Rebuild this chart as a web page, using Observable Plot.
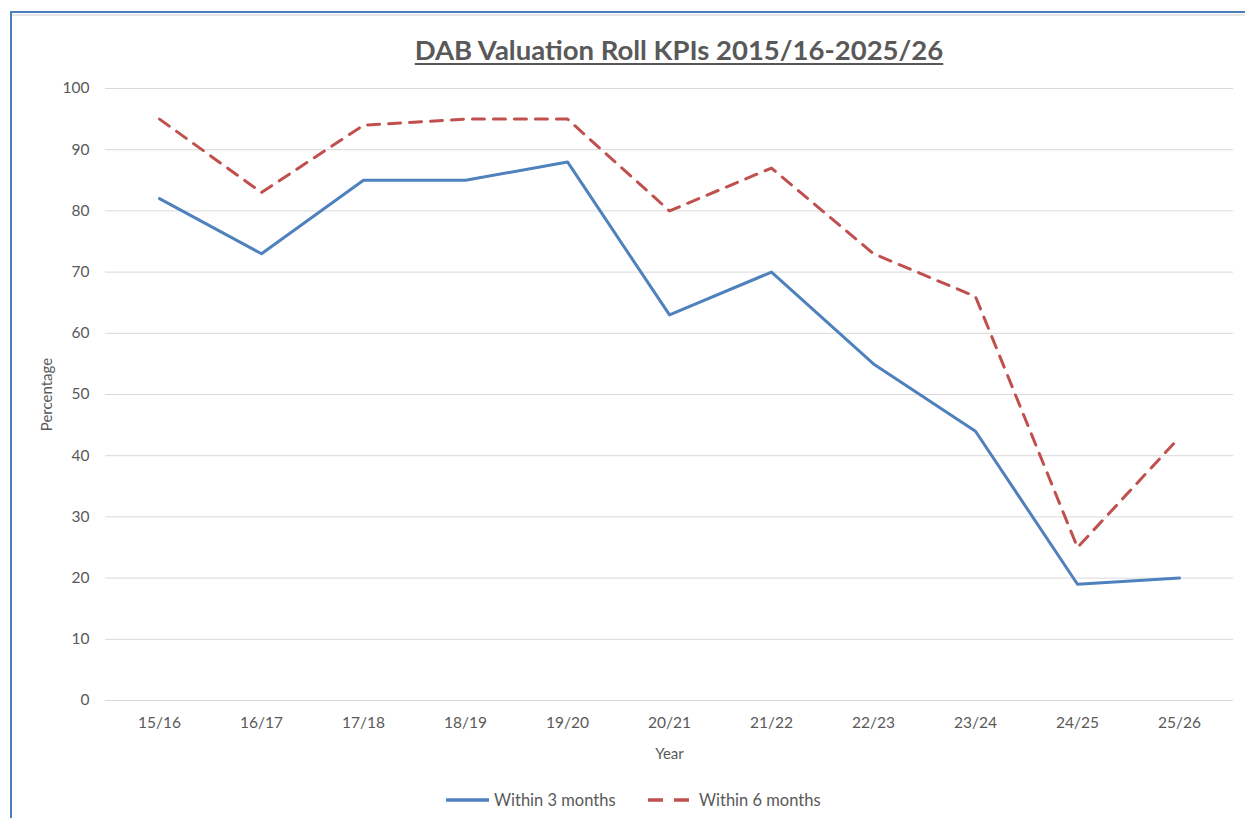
<!DOCTYPE html>
<html>
<head>
<meta charset="utf-8">
<script src="https://cdn.jsdelivr.net/npm/d3@7"></script>
<script src="https://cdn.jsdelivr.net/npm/@observablehq/plot@0.6"></script>
<style>
  html, body { margin: 0; padding: 0; background: #fff; }
  #wrap { position: relative; width: 1245px; height: 818px; overflow: hidden; font-family: Lato, "Open Sans", sans-serif; }
  #topline { position: absolute; left: 10px; top: 11px; width: 1235px; height: 2px; background: #4a7ebb; }
  #topgrey { position: absolute; left: 12px; top: 14px; width: 1233px; height: 2px; background: #e6e6e6; }
  #leftline { position: absolute; left: 10px; top: 11px; width: 2px; height: 807px; background: #4a7ebb; }
  #title { position: absolute; left: 0; width: 1358px; top: 33px; text-align: center; font-size: 27.5px; font-weight: bold; color: #595959; text-decoration: underline; text-underline-offset: 3px; }
  #chart { position: absolute; left: 0; top: 0; }
  #legend { position: absolute; top: 790px; left: 0; width: 1245px; font-size: 16.5px; color: #595959; }
  .item { position: absolute; display: flex; align-items: center; height: 20px; }
</style>
</head>
<body>
<div id="wrap">
  <div id="chart"></div>
  <div id="topline"></div>
  <div id="topgrey"></div>
  <div id="leftline"></div>
  <div id="title">DAB Valuation Roll KPIs 2015/16-2025/26</div>
  <div id="legend"></div>
</div>
<script>
const years = ["15/16","16/17","17/18","18/19","19/20","20/21","21/22","22/23","23/24","24/25","25/26"];
const within3 = [82, 73, 85, 85, 88, 63, 70, 55, 44, 19, 20];
const within6 = [95, 83, 94, 95, 95, 80, 87, 73, 66, 25, 43];
const yTicks = [0,10,20,30,40,50,60,70,80,90,100];
const seriesNames = ["Within 3 months", "Within 6 months"];
const seriesColors = ["#4f81bd", "#c0504d"];

const d3m = years.map((y, i) => ({year: y, value: within3[i]}));
const d6m = years.map((y, i) => ({year: y, value: within6[i]}));

const chart = Plot.plot({
  width: 1245,
  height: 818,
  marginLeft: 105,
  marginRight: 12,
  marginTop: 88,
  marginBottom: 118,
  style: {fontFamily: "Lato, 'Open Sans', sans-serif", fontSize: "15.5px", color: "#595959", background: "transparent"},
  x: {type: "point", domain: years, padding: 0.5, label: "Year", labelAnchor: "center", labelOffset: 58, labelArrow: "none", tickSize: 0, tickPadding: 16},
  y: {domain: [0, 100], ticks: yTicks, label: "Percentage", labelAnchor: "center", labelOffset: 64, labelArrow: "none", tickSize: 0, tickPadding: 16},
  marks: [
    Plot.gridY(yTicks, {stroke: "#d9d9d9", strokeOpacity: 1, strokeWidth: 1}),
    Plot.line(d6m, {x: "year", y: "value", stroke: seriesColors[1], strokeWidth: 3, strokeDasharray: "12,9"}),
    Plot.line(d3m, {x: "year", y: "value", stroke: seriesColors[0], strokeWidth: 3})
  ]
});
chart.querySelectorAll("[aria-label='x-axis label'] text, [aria-label='y-axis label'] text").forEach(t => { t.style.fontSize = "15px"; });
document.getElementById("chart").appendChild(chart);

const legend = document.getElementById("legend");
const positions = [446, 648];
const textGap = [5, 8];
seriesNames.forEach((name, i) => {
  const div = document.createElement("div");
  div.className = "item";
  div.style.left = positions[i] + "px";
  const dash = i === 1 ? 'stroke-dasharray="15,11"' : '';
  div.innerHTML = `<svg width="43" height="6" style="margin-right:${textGap[i]}px"><line x1="0" y1="3" x2="43" y2="3" stroke="${seriesColors[i]}" stroke-width="3.5" ${dash}/></svg><span>${name}</span>`;
  legend.appendChild(div);
});
</script>
</body>
</html>
